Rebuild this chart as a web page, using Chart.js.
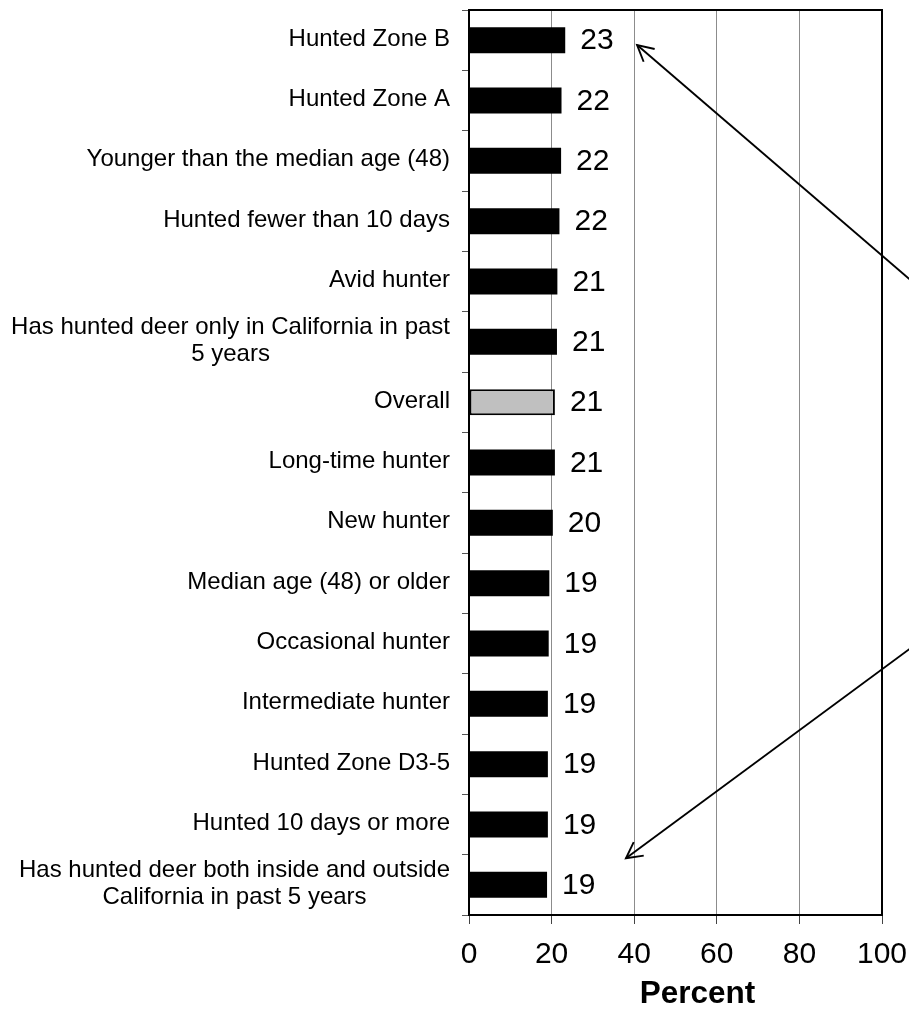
<!DOCTYPE html>
<html>
<head>
<meta charset="utf-8">
<script src="https://cdn.jsdelivr.net/npm/chart.js@4.4.1/dist/chart.umd.min.js"></script>
<style>
  html, body { margin: 0; padding: 0; background: #fff; }
</style>
</head>
<body>
<canvas id="deerChart" width="909" height="1009"></canvas>
<script>
// categories, top to bottom
const categories = [
  'Hunted Zone B',
  'Hunted Zone A',
  'Younger than the median age (48)',
  'Hunted fewer than 10 days',
  'Avid hunter',
  ['Has hunted deer only in California in past', '5 years'],
  'Overall',
  'Long-time hunter',
  'New hunter',
  'Median age (48) or older',
  'Occasional hunter',
  'Intermediate hunter',
  'Hunted Zone D3-5',
  'Hunted 10 days or more',
  ['Has hunted deer both inside and outside', 'California in past 5 years']
];
const percents = [23.3, 22.4, 22.3, 21.9, 21.4, 21.3, 20.8, 20.8, 20.3, 19.45, 19.3, 19.1, 19.1, 19.1, 18.9];
const xTickValues = [0, 20, 40, 60, 80, 100];
const xTitle = 'Percent';

const FONT = '"Liberation Sans", Arial, sans-serif';
const overallIndex = categories.indexOf('Overall');

// labels on the left: single lines right aligned, wrapped ones centred on their widest line
const categoryLabels = {
  id: 'categoryLabels',
  afterDraw(chart) {
    const {ctx, chartArea} = chart;
    const yScale = chart.scales.y;
    const right = chartArea.left - 19;
    const lineHeight = 27;
    ctx.save();
    ctx.font = '24px ' + FONT;
    ctx.fillStyle = '#000';
    ctx.textBaseline = 'middle';
    categories.forEach((label, i) => {
      const lines = Array.isArray(label) ? label : [label];
      const yc = yScale.getPixelForValue(i) - 1;
      const widest = Math.max(...lines.map(l => ctx.measureText(l).width));
      lines.forEach((line, j) => {
        const ly = yc + (j - (lines.length - 1) / 2) * lineHeight;
        if (lines.length > 1) {
          ctx.textAlign = 'center';
          ctx.fillText(line, right - widest / 2, ly);
        } else {
          ctx.textAlign = 'right';
          ctx.fillText(line, right, ly);
        }
      });
    });
    ctx.restore();
  }
};

// numbers after each bar
const valueLabels = {
  id: 'valueLabels',
  afterDatasetsDraw(chart) {
    const {ctx} = chart;
    const meta = chart.getDatasetMeta(0);
    ctx.save();
    ctx.font = '30px ' + FONT;
    ctx.fillStyle = '#000';
    ctx.textAlign = 'left';
    ctx.textBaseline = 'middle';
    meta.data.forEach((bar, i) => {
      ctx.fillText(String(Math.round(percents[i])), bar.x + 15, bar.y + 1);
    });
    ctx.restore();
  }
};

// box around the plot, axis title and the two arrows
const frameAndNotes = {
  id: 'frameAndNotes',
  afterDraw(chart) {
    const {ctx, chartArea} = chart;
    const xScale = chart.scales.x;
    const yScale = chart.scales.y;
    ctx.save();
    ctx.strokeStyle = '#000';
    ctx.lineWidth = 2;
    ctx.strokeRect(chartArea.left, chartArea.top, chartArea.right - chartArea.left, chartArea.bottom - chartArea.top);

    ctx.font = 'bold 31.5px ' + FONT;
    ctx.fillStyle = '#000';
    ctx.textAlign = 'center';
    ctx.textBaseline = 'alphabetic';
    ctx.fillText(xTitle, (chartArea.left + chartArea.right) / 2 + 22, 1003);

    const notes = [
      {value: 40.7, index: 0.08, slope: 0.86},
      {value: 38.0, index: 13.56, slope: -0.738}
    ];
    ctx.lineWidth = 1.9;
    notes.forEach(n => {
      const tx = xScale.getPixelForValue(n.value);
      const ty = yScale.getPixelForValue(n.index);
      const ex = chart.width + 30;
      const ey = ty + n.slope * (ex - tx);
      ctx.beginPath();
      ctx.moveTo(ex, ey);
      ctx.lineTo(tx, ty);
      ctx.stroke();
      const ang = Math.atan2(ey - ty, ex - tx);
      const spread = 28 * Math.PI / 180;
      const len = 18;
      ctx.beginPath();
      ctx.moveTo(tx + len * Math.cos(ang - spread), ty + len * Math.sin(ang - spread));
      ctx.lineTo(tx, ty);
      ctx.lineTo(tx + len * Math.cos(ang + spread), ty + len * Math.sin(ang + spread));
      ctx.stroke();
    });
    ctx.restore();
  }
};

new Chart(document.getElementById('deerChart'), {
  type: 'bar',
  data: {
    labels: categories,
    datasets: [{
      data: percents,
      backgroundColor: ctx => ctx.dataIndex === overallIndex ? '#c0c0c0' : '#000',
      borderColor: '#000',
      borderWidth: ctx => ctx.dataIndex === overallIndex ? 2 : 0,
      borderSkipped: false,
      barPercentage: 0.43,
      categoryPercentage: 1
    }]
  },
  options: {
    indexAxis: 'y',
    responsive: false,
    animation: false,
    layout: {padding: {top: 10, right: 27, left: 0, bottom: 0}},
    plugins: {
      legend: {display: false},
      tooltip: {enabled: false}
    },
    scales: {
      x: {
        min: 0,
        max: 100,
        afterFit: s => {
          s.height = 94;
          s.paddingLeft = 0;
          s.paddingRight = 0;
        },
        afterBuildTicks: s => { s.ticks = xTickValues.map(v => ({value: v})); },
        grid: {
          color: '#8c8c8c',
          lineWidth: 1,
          tickLength: 9,
          tickColor: '#444'
        },
        border: {color: '#000', width: 2},
        ticks: {
          color: '#000',
          font: {family: FONT, size: 30},
          padding: 13,
          maxRotation: 0
        }
      },
      y: {
        afterFit: s => { s.width = 469; },
        grid: {
          drawOnChartArea: false,
          tickLength: 7,
          color: '#555'
        },
        border: {color: '#000', width: 2},
        ticks: {display: false}
      }
    }
  },
  plugins: [categoryLabels, valueLabels, frameAndNotes]
});
</script>
</body>
</html>
